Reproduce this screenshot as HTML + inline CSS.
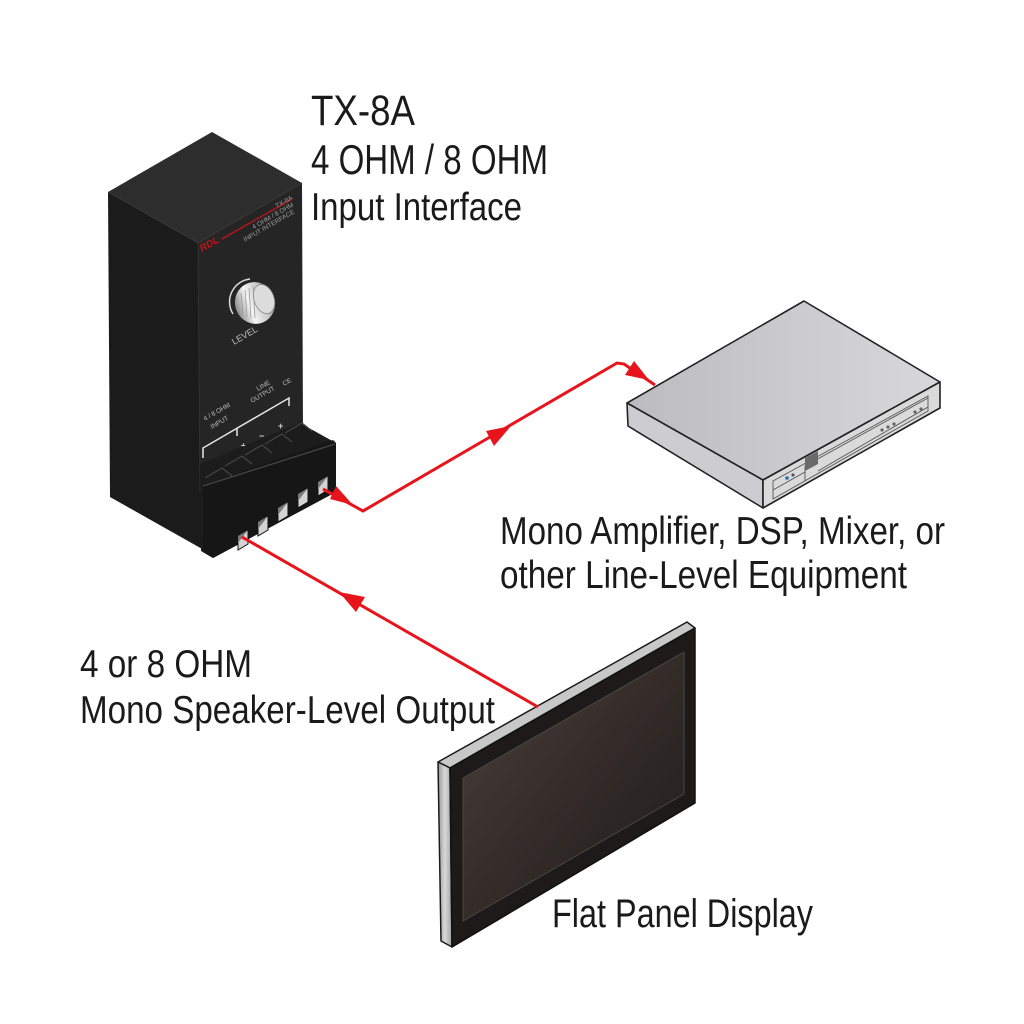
<!DOCTYPE html>
<html><head><meta charset="utf-8"><style>
html,body{margin:0;padding:0;background:#fff;}
svg{display:block;}
text{font-family:"Liberation Sans",sans-serif;}
</style></head><body>
<svg width="1024" height="1024" viewBox="0 0 1024 1024" xmlns="http://www.w3.org/2000/svg">
<defs>
<linearGradient id="ampTop" x1="0" y1="0" x2="1" y2="0">
<stop offset="0" stop-color="#bcbcbf"/><stop offset="1" stop-color="#d8d8da"/></linearGradient>
<linearGradient id="scr" x1="0" y1="0" x2="1" y2="1">
<stop offset="0" stop-color="#4a413c"/><stop offset="0.5" stop-color="#332c29"/><stop offset="1" stop-color="#1f1b1a"/></linearGradient>
<linearGradient id="knob" x1="0" y1="0" x2="1" y2="0">
<stop offset="0" stop-color="#8a8a8a"/><stop offset="0.35" stop-color="#f4f4f4"/><stop offset="0.7" stop-color="#c8c8c8"/><stop offset="1" stop-color="#7a7a7a"/></linearGradient>
<linearGradient id="side" x1="0" y1="0" x2="1" y2="0">
<stop offset="0" stop-color="#9a9a9a"/><stop offset="0.5" stop-color="#d8d8d8"/><stop offset="1" stop-color="#a0a0a0"/></linearGradient>
</defs>

<!-- TX-8A box -->
<polygon points="108,192 212,132 302,183 198,243" fill="#2d2d2d"/>
<polygon points="108,192 198,243 204,550 110,497" fill="#1b1b1b"/>
<polygon points="198,243 302,183 303,432 200,492" fill="#252525"/>
<line x1="198" y1="243" x2="302" y2="183" stroke="#3a3a3a" stroke-width="1"/>
<line x1="198" y1="243" x2="200" y2="492" stroke="#303030" stroke-width="1"/>

<!-- front face markings -->
<line x1="222" y1="239" x2="292" y2="199" stroke="#c0141a" stroke-width="1.3"/>
<text x="0" y="0" font-size="10" font-style="italic" font-weight="bold" fill="#c0141a" transform="translate(202,252) rotate(-30)">RDL</text>
<g fill="#9a9a9a" font-size="6.5">
<text transform="translate(293,199) rotate(-30)" text-anchor="end">TX-8A</text>
<text transform="translate(294,206) rotate(-30)" text-anchor="end">4 OHM / 8 OHM</text>
<text transform="translate(295,213) rotate(-30)" text-anchor="end">INPUT INTERFACE</text>
</g>

<!-- knob -->
<path d="M233,314 A23,23 0 0 1 250,279" fill="none" stroke="#dcdcdc" stroke-width="1.5"/>
<ellipse cx="255" cy="303" rx="20" ry="21" fill="url(#knob)" transform="rotate(-20 255 303)"/>
<ellipse cx="264" cy="299" rx="10" ry="15" fill="#dcdcdc" stroke="#888" stroke-width="0.8" transform="rotate(-20 264 299)"/>
<g stroke="#9a9a9a" stroke-width="0.8">
<line x1="241" y1="293" x2="243" y2="315"/><line x1="245" y1="290" x2="247" y2="317"/>
<line x1="249" y1="288" x2="251" y2="318"/><line x1="253" y1="286" x2="255" y2="318"/>
</g>
<text transform="translate(234,345) rotate(-30)" font-size="9" fill="#bdbdbd">LEVEL</text>

<!-- terminal labels -->
<g fill="#bdbdbd" font-size="6.5">
<text transform="translate(205,421) rotate(-30)">4 / 8 OHM</text>
<text transform="translate(212,429) rotate(-30)">INPUT</text>
<text transform="translate(258,391) rotate(-30)">LINE</text>
<text transform="translate(252,403) rotate(-30)">OUTPUT</text>
<text transform="translate(284,386) rotate(-30)">CE</text>
</g>
<polyline points="203,458 203,448 289,398 289,406" fill="none" stroke="#e6e6e6" stroke-width="1.5"/>
<line x1="237" y1="428" x2="237" y2="436" stroke="#e6e6e6" stroke-width="1.5"/>
<g fill="#cfcfcf" font-size="9" font-weight="bold">
<text x="206" y="470">+</text><text x="224" y="459">−</text><text x="241" y="449">±</text>
<text x="259" y="439">−</text><text x="278" y="429">+</text>
</g>

<!-- terminal block -->
<polygon points="200,464 300,423 336,443 336,492 213,558 201,551" fill="#1c1c1c"/>
<polygon points="203,485 333,440 336,443 336,492 213,558 203,552" fill="#161616"/>
<g stroke="#444" stroke-width="1.3" fill="none">
<polyline points="205,478 222,468 232,476"/>
<polyline points="225,466 242,456 252,464"/>
<polyline points="245,455 262,445 272,453"/>
<polyline points="265,444 282,434 292,442"/>
<polyline points="285,433 302,423 312,431"/>
<line x1="203" y1="486" x2="335" y2="444"/>
</g>
<g stroke="#111" stroke-width="1">
<polygon points="238,536 248,530 248,544 238,550" fill="#d4d4d4"/>
<polygon points="258,522 268,516 268,530 258,536" fill="#d4d4d4"/>
<polygon points="278,508 288,502 288,516 278,522" fill="#d4d4d4"/>
<polygon points="298,494 308,488 308,502 298,508" fill="#d4d4d4"/>
<polygon points="318,482 328,476 328,490 318,496" fill="#d4d4d4"/>
</g>
<g fill="#7a7a7a">
<polygon points="238,536 248,530 238,543"/>
<polygon points="258,522 268,516 258,529"/>
<polygon points="278,508 288,502 278,515"/>
<polygon points="298,494 308,488 298,501"/>
<polygon points="318,482 328,476 318,489"/>
</g>

<!-- amplifier -->
<polygon points="627,403 804,301 940,382 763,480" fill="url(#ampTop)" stroke="#222" stroke-width="1.6" stroke-linejoin="round"/>
<polygon points="627,403 763,480 763,508 628,426" fill="#cdcdcf" stroke="#222" stroke-width="1.6" stroke-linejoin="round"/>
<polygon points="763,480 940,382 940,408 763,508" fill="#dadadb" stroke="#222" stroke-width="1.6" stroke-linejoin="round"/>
<g stroke="#555" stroke-width="0.9" fill="none">
<polygon points="773,481 928,396 928,411 773,499"/>
<line x1="773" y1="490" x2="805" y2="472"/>
<line x1="805" y1="466" x2="928" y2="398"/>
<line x1="818" y1="471" x2="928" y2="407"/>
<line x1="805" y1="466" x2="805" y2="481"/>
</g>
<polygon points="805,458 818,451 818,464 805,471" fill="#6a6a6a"/>
<circle cx="787" cy="478" r="1.8" fill="#2a6ab0"/>
<circle cx="793" cy="475" r="1.6" fill="#555"/>
<circle cx="882" cy="430" r="1.6" fill="#666"/>
<circle cx="888" cy="427" r="1.6" fill="#666"/>
<circle cx="894" cy="424" r="1.6" fill="#666"/>
<circle cx="915" cy="412" r="1.6" fill="#666"/>
<circle cx="921" cy="409" r="1.6" fill="#666"/>

<!-- flat panel display -->
<polygon points="438,762 687,622 695,628 450,768" fill="#c8c8c8" stroke="#1a1a1a" stroke-width="1.5" stroke-linejoin="round"/>
<polygon points="438,762 450,768 452,947 441,941" fill="url(#side)" stroke="#1a1a1a" stroke-width="1.5" stroke-linejoin="round"/>
<polygon points="450,768 695,628 695,803 452,947" fill="#1d1a19" stroke="#111" stroke-width="1.5" stroke-linejoin="round"/>
<polygon points="463,778 684,652 684,794 463,921" fill="url(#scr)" stroke="#4a4644" stroke-width="1"/>

<!-- red connectors -->
<g stroke="#e8141c" stroke-width="3" fill="none" stroke-linejoin="miter">
<polyline points="323,489 363,511 617,363 624,364 655,385"/>
<line x1="242" y1="537" x2="538" y2="707"/>
</g>
<g fill="#e8141c">
<polygon points="353,505 336,486 330,499"/>
<polygon points="511,426 494,446 486,431"/>
<polygon points="649,380 625,375 634,361"/>
<polygon points="339,592 356,612 365,597"/>
</g>

<!-- labels -->
<g fill="#1a1a1a">
<text x="311" y="125" font-size="43" textLength="104" lengthAdjust="spacingAndGlyphs">TX-8A</text>
<text x="311" y="174" font-size="42" textLength="237" lengthAdjust="spacingAndGlyphs">4 OHM / 8 OHM</text>
<text x="311" y="220" font-size="39" textLength="211" lengthAdjust="spacingAndGlyphs">Input Interface</text>
<text x="500" y="544" font-size="39" textLength="445" lengthAdjust="spacingAndGlyphs">Mono Amplifier, DSP, Mixer, or</text>
<text x="500" y="588" font-size="39" textLength="407" lengthAdjust="spacingAndGlyphs">other Line-Level Equipment</text>
<text x="80" y="677" font-size="39" textLength="172" lengthAdjust="spacingAndGlyphs">4 or 8 OHM</text>
<text x="80" y="723" font-size="39" textLength="415" lengthAdjust="spacingAndGlyphs">Mono Speaker-Level Output</text>
<text x="552" y="927" font-size="40" textLength="261" lengthAdjust="spacingAndGlyphs">Flat Panel Display</text>
</g>
</svg>
</body></html>
